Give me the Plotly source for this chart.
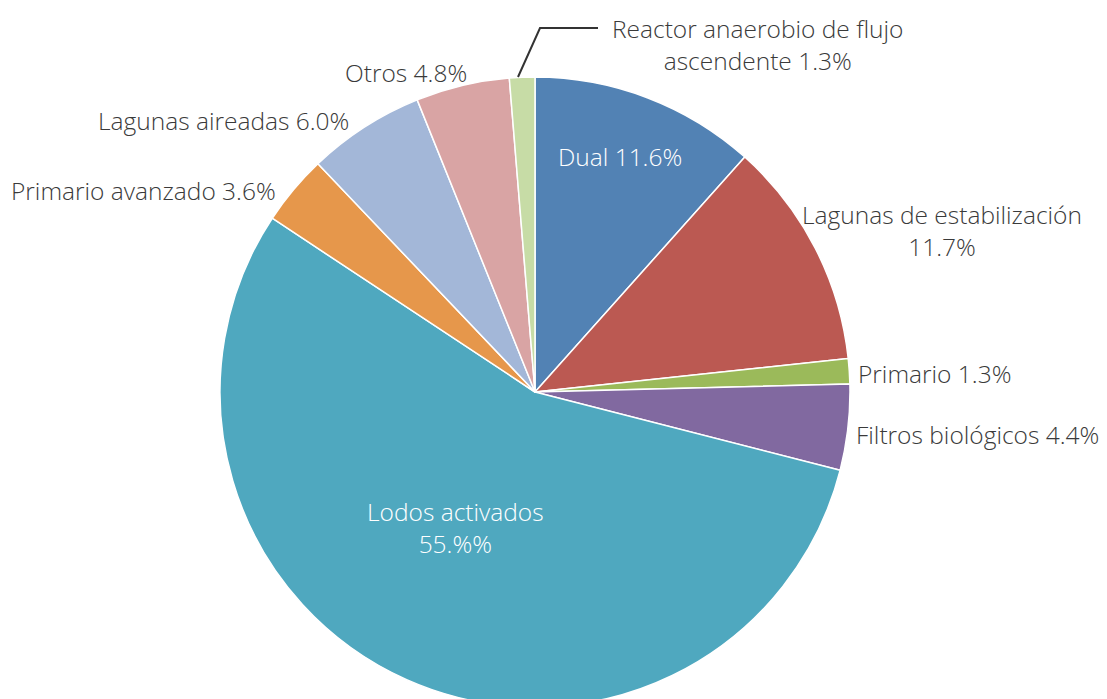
import plotly.graph_objects as go

W, H = 1107, 699
OFF = 8  # margen del body en la página

categorias = [
    "Dual",
    "Lagunas de estabilización",
    "Primario",
    "Filtros biológicos",
    "Lodos activados",
    "Primario avanzado",
    "Lagunas aireadas",
    "Otros",
    "Reactor anaerobio de flujo ascendente",
]
porcentajes = [11.6, 11.7, 1.3, 4.4, 55.3, 3.6, 6.0, 4.8, 1.3]
etiquetas = [
    "Dual 11.6%",
    "Lagunas de estabilización<br>11.7%",
    "Primario 1.3%",
    "Filtros biológicos 4.4%",
    "Lodos activados<br>55.%%",
    "Primario avanzado 3.6%",
    "Lagunas aireadas 6.0%",
    "Otros 4.8%",
    "Reactor anaerobio de flujo<br>ascendente 1.3%",
]
colores = [
    "#5282b4", "#bb5952", "#9bba5a", "#8169a0", "#4fa8bf",
    "#e6974b", "#a3b7d8", "#d9a4a4", "#c7dca6",
]

# posición de cada etiqueta (px en la captura)
pos_etiquetas = [
    (620, 157), (942, 231), (934, 373), (977, 434), (455, 527),
    (143, 190), (223, 120), (406, 73), (757, 44),
]
texto_blanco = {"Dual", "Lodos activados"}


def px_to_paper(x, y):
    return (x - OFF) / W, 1 - (y - OFF) / H


fig = go.Figure()
fig.add_trace(go.Pie(
    labels=categorias,
    values=porcentajes,
    sort=False,
    direction="clockwise",
    rotation=0,
    textinfo="none",
    hoverinfo="label+percent",
    marker=dict(colors=colores, line=dict(color="white", width=1.5)),
    domain=dict(x=[212 / W, 842 / W], y=[0, 1 - 69 / H]),
    showlegend=False,
))

for cat, txt, (x, y) in zip(categorias, etiquetas, pos_etiquetas):
    xp, yp = px_to_paper(x, y)
    fig.add_annotation(
        x=xp, y=yp, xref="paper", yref="paper",
        text=txt, showarrow=False, align="center",
        xanchor="center", yanchor="middle",
        font=dict(size=24.5, color="white" if cat in texto_blanco else "#3a3a3a",
                  family="Open Sans", weight=300),
    )

# línea guía del reactor anaerobio
p0, p1, p2 = px_to_paper(518, 77), px_to_paper(540, 28), px_to_paper(598, 28)
fig.add_shape(
    type="path", xref="paper", yref="paper",
    path=f"M {p0[0]},{p0[1]} L {p1[0]},{p1[1]} L {p2[0]},{p2[1]}",
    line=dict(color="#333333", width=2),
)

fig.update_layout(
    width=W, height=H,
    margin=dict(l=0, r=0, t=0, b=0),
    paper_bgcolor="white",
    plot_bgcolor="white",
)

fig.write_html("out.html")
